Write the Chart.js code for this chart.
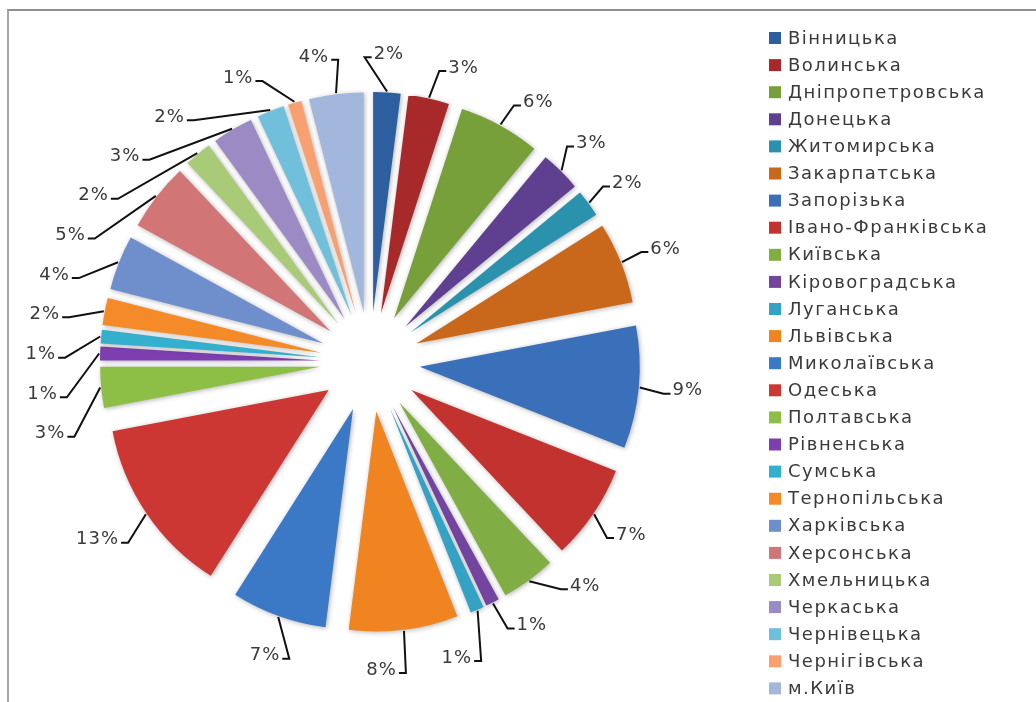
<!DOCTYPE html>
<html>
<head>
<meta charset="utf-8">
<script src="https://cdn.jsdelivr.net/npm/chart.js@4.4.1/dist/chart.umd.min.js"></script>
<style>
    html, body { margin: 0; padding: 0; background: #fff; }
    #wrap { position: relative; width: 1036px; height: 702px; overflow: hidden; }
    #frame { position: absolute; left: 7px; top: 9px; right: -10px; bottom: -10px;
             border-top: 2px solid #8f8f8f; border-left: 2px solid #a5a5a5; }
    canvas { position: absolute; left: 0; top: 0; }
</style>
</head>
<body>
<div id="wrap">
    <div id="frame"></div>
    <canvas id="regions-chart" width="1036" height="702"></canvas>
</div>
<script>
'use strict';

// regions in legend order, share of total (%)
const regions = [
    'Вінницька', 'Волинська', 'Дніпропетровська', 'Донецька', 'Житомирська',
    'Закарпатська', 'Запорізька', 'Івано-Франківська', 'Київська', 'Кіровоградська',
    'Луганська', 'Львівська', 'Миколаївська', 'Одеська', 'Полтавська',
    'Рівненська', 'Сумська', 'Тернопільська', 'Харківська', 'Херсонська',
    'Хмельницька', 'Черкаська', 'Чернівецька', 'Чернігівська', 'м.Київ',
];
const shares = [2, 3, 6, 3, 2, 6, 9, 7, 4, 1, 1, 8, 7, 13, 3, 1, 1, 2, 4, 5, 2, 3, 2, 1, 4];
const colours = [
    '#2d5e9f', '#a8292a', '#78a03a', '#5f3f8f', '#2a92ad', '#c9681a',
    '#3a70ba', '#c2322f', '#80ae45', '#7445a0', '#33a2c4', '#ef8420',
    '#3b78c6', '#cc3633', '#8dbf46', '#7d3fb0', '#34b0ce', '#f48a28',
    '#6e8fcb', '#d17577', '#a9cb78', '#9c8ac4', '#70c0dc', '#f9a070', '#a3b6dc',
];

const EXPLODE = 50;
const TEXT_FONT = '18px "DejaVu Sans"';
const TEXT_COLOUR = '#3a3a3a';

// push every slice away from the centre, like Excel's exploded pie
const explode = {
    id: 'explode',
    afterDatasetUpdate(chart, args) {
        args.meta.data.forEach(arc => {
            const mid = (arc.startAngle + arc.endAngle) / 2;
            arc.x += Math.cos(mid) * EXPLODE;
            arc.y += Math.sin(mid) * EXPLODE;
        });
    },
    beforeDatasetsDraw(chart) {
        const ctx = chart.ctx;
        ctx.save();
        ctx.shadowColor = 'rgba(0,0,0,0.3)';
        ctx.shadowBlur = 5;
        ctx.shadowOffsetX = 1;
        ctx.shadowOffsetY = 1;
    },
    afterDatasetsDraw(chart) {
        chart.ctx.restore();
    },
};

// percentage labels with leader lines
const pctLabels = {
    id: 'pctLabels',
    afterDraw(chart) {
        const ctx = chart.ctx;
        const meta = chart.getDatasetMeta(0);
        const area = chart.chartArea;
        const cx = (area.left + area.right) / 2;
        const cy = (area.top + area.bottom) / 2;
        const values = chart.data.datasets[0].data;
        const total = values.reduce((a, b) => a + b, 0);
        ctx.save();
        ctx.font = TEXT_FONT;
        ctx.letterSpacing = '1px';
        const rim = meta.data[0].outerRadius + EXPLODE;
        const items = meta.data.map((arc, i) => {
            const mid = (arc.startAngle + arc.endAngle) / 2;
            const text = Math.round(values[i] / total * 100) + '%';
            return {arc, mid, ang: mid, text, w: ctx.measureText(text).width, h: 16};
        });
        const place = it => {
            const c = Math.cos(it.ang), s = Math.sin(it.ang);
            const reach = rim + 30 + (c < 0 ? 14 * -c : 4 * c);
            it.x = cx + c * (reach + it.w / 2 * Math.abs(c));
            it.y = cy + s * (reach + it.h / 2 * Math.abs(s));
        };
        // spread crowded labels apart; near the top the lower one gives way
        for (let k = 0; k < 900; k++) {
            items.forEach(place);
            let moved = false;
            for (let i = 0; i < items.length; i++) {
                const a = items[i], b = items[(i + 1) % items.length];
                const ox = (a.w + b.w) / 2 + 44 - Math.abs(a.x - b.x);
                const oy = (a.h + b.h) / 2 + 23 - Math.abs(a.y - b.y);
                if (ox > 0 && oy > 0) {
                    let da = 0.003, db = 0.003;
                    if (a.y < cy || b.y < cy) {
                        da = a.y > b.y ? 0.005 : 0.001;
                        db = a.y > b.y ? 0.001 : 0.005;
                    }
                    a.ang -= da;
                    b.ang += db;
                    moved = true;
                }
            }
            if (!moved) break;
        }
        items.forEach(place);

        ctx.strokeStyle = '#111';
        ctx.lineWidth = 2;
        ctx.fillStyle = TEXT_COLOUR;
        ctx.textAlign = 'center';
        ctx.textBaseline = 'middle';
        items.forEach(it => {
            const a = it.arc;
            const sx = a.x + Math.cos(it.mid) * (a.outerRadius + 1);
            const sy = a.y + Math.sin(it.mid) * (a.outerRadius + 1);
            const right = it.x >= sx;
            const ex = right ? it.x - it.w / 2 - 2 : it.x + it.w / 2 + 2;
            const kx = right ? ex - 7 : ex + 7;
            ctx.beginPath();
            ctx.moveTo(sx, sy);
            ctx.lineTo(kx, it.y + 3);
            ctx.lineTo(ex, it.y + 3);
            ctx.stroke();
            ctx.fillText(it.text, it.x, it.y);
        });
        ctx.restore();
    },
};

// legend column on the right
const sideLegend = {
    id: 'sideLegend',
    afterDraw(chart) {
        const ctx = chart.ctx;
        const ds = chart.data.datasets[0];
        ctx.save();
        ctx.font = TEXT_FONT;
        ctx.letterSpacing = '1.5px';
        ctx.textBaseline = 'middle';
        chart.data.labels.forEach((label, i) => {
            const y = 38 + i * 27.1;
            ctx.fillStyle = ds.backgroundColor[i];
            ctx.fillRect(769, y - 6, 12, 12);
            ctx.fillStyle = TEXT_COLOUR;
            ctx.fillText(label, 788, y + 1);
        });
        ctx.restore();
    },
};

window.addEventListener('load', () => {
    const config = {
        type: 'pie',
        data: {
            labels: regions,
            datasets: [{
                data: shares,
                backgroundColor: colours,
                borderWidth: 0,
            }],
        },
        options: {
            responsive: false,
            animation: false,
            events: [],
            radius: 220,
            layout: {padding: {left: 0, right: 296, top: 22, bottom: 0}},
            plugins: {
                legend: {display: false},
                tooltip: {enabled: false},
            },
        },
        plugins: [explode, pctLabels, sideLegend],
    };
    new Chart(document.getElementById('regions-chart'), config);
});
</script>
</body>
</html>
